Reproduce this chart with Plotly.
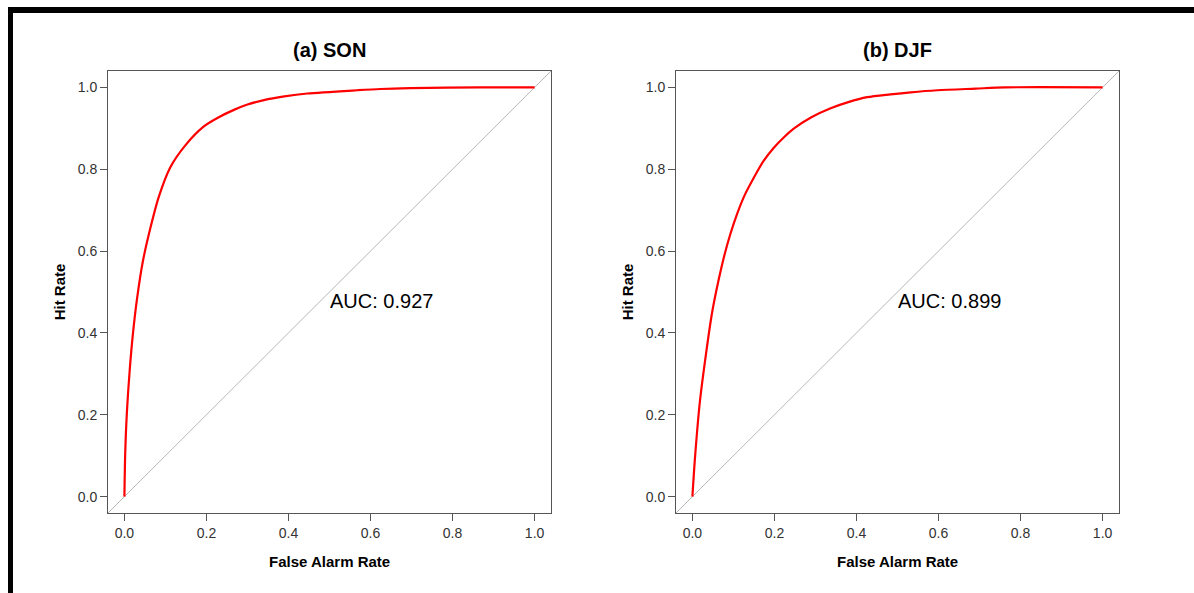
import plotly.graph_objects as go

# ROC curves (false alarm rate vs hit rate) for two seasons
son_far = [0.0, 0.002, 0.006, 0.013, 0.021, 0.031, 0.045, 0.063, 0.084, 0.112, 0.149,
           0.193, 0.230, 0.267, 0.300, 0.340, 0.390, 0.446, 0.568, 0.624, 0.698, 0.867, 1.0]
son_hit = [0.0, 0.107, 0.205, 0.310, 0.400, 0.485, 0.575, 0.655, 0.733, 0.805, 0.859,
           0.904, 0.927, 0.945, 0.958, 0.969, 0.978, 0.985, 0.993, 0.996, 0.998, 1.0, 1.0]

djf_far = [0.0, 0.006, 0.018, 0.034, 0.048, 0.064, 0.078, 0.092, 0.109, 0.128, 0.150,
           0.174, 0.198, 0.222, 0.247, 0.290, 0.337, 0.380, 0.426, 0.483, 0.532, 0.597,
           0.690, 0.763, 1.0]
djf_hit = [0.0, 0.091, 0.230, 0.355, 0.450, 0.530, 0.590, 0.640, 0.691, 0.738, 0.780,
           0.821, 0.852, 0.877, 0.899, 0.927, 0.949, 0.964, 0.976, 0.983, 0.988, 0.993,
           0.997, 1.0, 1.0]

panel_titles = ["(a) SON", "(b) DJF"]
auc_labels = ["AUC: 0.927", "AUC: 0.899"]
tick_vals = [0.0, 0.2, 0.4, 0.6, 0.8, 1.0]
tick_text = ["0.0", "0.2", "0.4", "0.6", "0.8", "1.0"]
axis_range = [-0.04, 1.04]

W, H = 1194, 593
FONT = "Liberation Sans, Arial, sans-serif"

# panel boxes in pixels (left, right), shared top/bottom
panels_px = [(108, 551), (676, 1119)]
top_px, bottom_px = 71, 513


def px_x(p):
    return p / W


def px_y(p):
    return 1 - p / H


fig = go.Figure()

curves = [(son_far, son_hit), (djf_far, djf_hit)]
annotations = []
shapes = []

for i, ((far, hit), (l, r)) in enumerate(zip(curves, panels_px)):
    ax = "" if i == 0 else str(i + 1)
    fig.add_trace(go.Scatter(
        x=far, y=hit, mode="lines",
        line=dict(color="#ff0000", width=2.2, shape="spline", smoothing=0.8),
        xaxis="x" + ax, yaxis="y" + ax, showlegend=False, hoverinfo="skip",
    ))
    # chance diagonal
    shapes.append(dict(
        type="line", xref="x" + ax, yref="y" + ax,
        x0=axis_range[0], y0=axis_range[0], x1=axis_range[1], y1=axis_range[1],
        line=dict(color="#b8b8b8", width=1), layer="below",
    ))
    axis_common = dict(
        range=axis_range, showgrid=False, zeroline=False,
        showline=True, mirror=True, linecolor="#555555", linewidth=1,
        ticks="outside", ticklen=7, tickwidth=1, tickcolor="#555555",
        tickvals=tick_vals, ticktext=tick_text,
        tickfont=dict(family=FONT, size=14, color="#333333"),
        fixedrange=True,
    )
    fig.update_layout(**{
        "xaxis" + ax: dict(axis_common, domain=[px_x(l), px_x(r)],
                           anchor="y" + ax),
        "yaxis" + ax: dict(axis_common, domain=[px_y(bottom_px), px_y(top_px)],
                           anchor="x" + ax),
    })
    cx = (l + r) / 2
    annotations += [
        dict(text="<b>" + panel_titles[i] + "</b>", x=px_x(cx), y=px_y(50),
             xref="paper", yref="paper", showarrow=False,
             xanchor="center", yanchor="middle",
             font=dict(family=FONT, size=20, color="#000000")),
        dict(text="<b>False Alarm Rate</b>", x=px_x(cx), y=px_y(561),
             xref="paper", yref="paper", showarrow=False,
             xanchor="center", yanchor="middle",
             font=dict(family=FONT, size=15, color="#000000")),
        dict(text="<b>Hit Rate</b>", x=px_x(l - 48.7), y=px_y((top_px + bottom_px) / 2),
             xref="paper", yref="paper", showarrow=False, textangle=-90,
             xanchor="center", yanchor="middle",
             font=dict(family=FONT, size=15, color="#000000")),
        dict(text=auc_labels[i], x=0.497, y=0.478,
             xref="x" + ax, yref="y" + ax, showarrow=False,
             xanchor="left", yanchor="middle",
             font=dict(family=FONT, size=20, color="#000000")),
    ]

# black frame along the top and left edges
shapes += [
    dict(type="rect", xref="paper", yref="paper",
         x0=px_x(8), x1=1.0, y0=px_y(13), y1=px_y(7),
         fillcolor="#000000", line=dict(width=0)),
    dict(type="rect", xref="paper", yref="paper",
         x0=px_x(8), x1=px_x(13), y0=0.0, y1=px_y(7),
         fillcolor="#000000", line=dict(width=0)),
]

fig.update_layout(
    width=W, height=H, autosize=False,
    margin=dict(l=0, r=0, t=0, b=0),
    paper_bgcolor="#ffffff", plot_bgcolor="#ffffff",
    annotations=annotations, shapes=shapes,
    showlegend=False,
)

fig.write_html("out.html", config={"displayModeBar": False})
